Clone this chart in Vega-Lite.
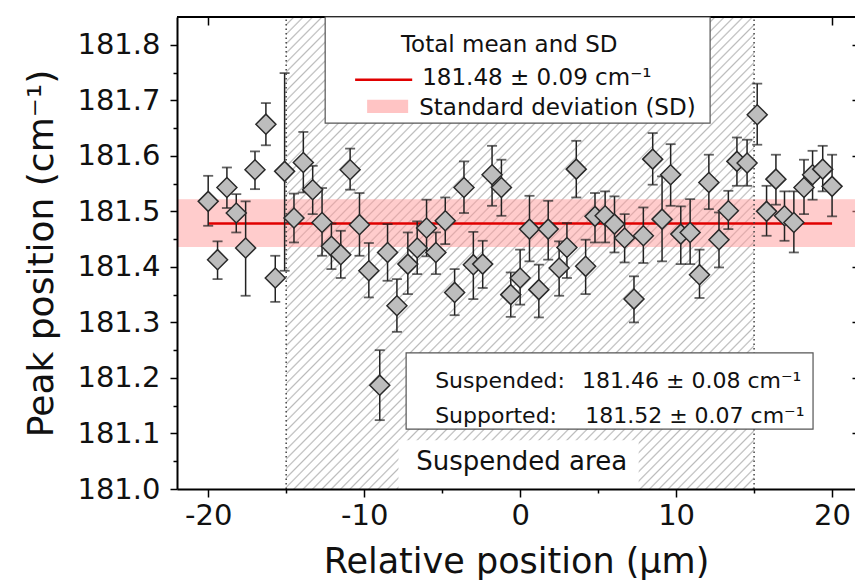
{
  "$schema": "https://vega.github.io/schema/vega-lite/v6.json",
  "width": 678,
  "height": 472,
  "autosize": {"type": "none"},
  "padding": {"left": 177, "top": 17, "right": 0, "bottom": 93},
  "background": "white",
  "config": {"view": {"stroke": null}, "font": "DejaVu Sans", "axis": {"grid": false}},
  "datasets": {
    "pts": [
      {"x": -20.0, "y": 181.518, "lo": 181.474, "hi": 181.564},
      {"x": -19.4, "y": 181.413, "lo": 181.378, "hi": 181.446},
      {"x": -18.8, "y": 181.543, "lo": 181.506, "hi": 181.579},
      {"x": -18.2, "y": 181.497, "lo": 181.462, "hi": 181.531},
      {"x": -17.6, "y": 181.434, "lo": 181.348, "hi": 181.518},
      {"x": -17.0, "y": 181.575, "lo": 181.540, "hi": 181.608},
      {"x": -16.3, "y": 181.657, "lo": 181.619, "hi": 181.695},
      {"x": -15.7, "y": 181.380, "lo": 181.337, "hi": 181.420},
      {"x": -15.1, "y": 181.572, "lo": 181.393, "hi": 181.749},
      {"x": -14.5, "y": 181.488, "lo": 181.444, "hi": 181.532},
      {"x": -13.9, "y": 181.588, "lo": 181.534, "hi": 181.643},
      {"x": -13.3, "y": 181.539, "lo": 181.495, "hi": 181.582},
      {"x": -12.7, "y": 181.480, "lo": 181.420, "hi": 181.542},
      {"x": -12.1, "y": 181.437, "lo": 181.396, "hi": 181.478},
      {"x": -11.5, "y": 181.422, "lo": 181.380, "hi": 181.465},
      {"x": -10.9, "y": 181.575, "lo": 181.539, "hi": 181.613},
      {"x": -10.3, "y": 181.476, "lo": 181.420, "hi": 181.533},
      {"x": -9.7, "y": 181.393, "lo": 181.345, "hi": 181.443},
      {"x": -9.0, "y": 181.187, "lo": 181.124, "hi": 181.250},
      {"x": -8.5, "y": 181.426, "lo": 181.375, "hi": 181.477},
      {"x": -7.9, "y": 181.330, "lo": 181.283, "hi": 181.378},
      {"x": -7.2, "y": 181.405, "lo": 181.351, "hi": 181.462},
      {"x": -6.6, "y": 181.434, "lo": 181.387, "hi": 181.482},
      {"x": -6.0, "y": 181.470, "lo": 181.419, "hi": 181.521},
      {"x": -5.4, "y": 181.426, "lo": 181.387, "hi": 181.462},
      {"x": -4.8, "y": 181.483, "lo": 181.441, "hi": 181.525},
      {"x": -4.2, "y": 181.354, "lo": 181.313, "hi": 181.396},
      {"x": -3.6, "y": 181.543, "lo": 181.497, "hi": 181.590},
      {"x": -3.0, "y": 181.404, "lo": 181.342, "hi": 181.463},
      {"x": -2.4, "y": 181.405, "lo": 181.362, "hi": 181.447},
      {"x": -1.8, "y": 181.566, "lo": 181.510, "hi": 181.618},
      {"x": -1.2, "y": 181.543, "lo": 181.492, "hi": 181.593},
      {"x": -0.6, "y": 181.350, "lo": 181.310, "hi": 181.390},
      {"x": 0.0, "y": 181.380, "lo": 181.332, "hi": 181.431},
      {"x": 0.6, "y": 181.468, "lo": 181.410, "hi": 181.528},
      {"x": 1.2, "y": 181.359, "lo": 181.309, "hi": 181.404},
      {"x": 1.8, "y": 181.468, "lo": 181.413, "hi": 181.519},
      {"x": 2.5, "y": 181.398, "lo": 181.348, "hi": 181.446},
      {"x": 3.0, "y": 181.435, "lo": 181.380, "hi": 181.479},
      {"x": 3.6, "y": 181.576, "lo": 181.525, "hi": 181.627},
      {"x": 4.2, "y": 181.401, "lo": 181.351, "hi": 181.449},
      {"x": 4.8, "y": 181.491, "lo": 181.444, "hi": 181.533},
      {"x": 5.45, "y": 181.492, "lo": 181.444, "hi": 181.536},
      {"x": 6.05, "y": 181.477, "lo": 181.426, "hi": 181.527},
      {"x": 6.7, "y": 181.452, "lo": 181.408, "hi": 181.495},
      {"x": 7.3, "y": 181.342, "lo": 181.300, "hi": 181.383},
      {"x": 7.9, "y": 181.456, "lo": 181.407, "hi": 181.507},
      {"x": 8.5, "y": 181.594, "lo": 181.548, "hi": 181.641},
      {"x": 9.1, "y": 181.486, "lo": 181.410, "hi": 181.563},
      {"x": 9.65, "y": 181.566, "lo": 181.510, "hi": 181.621},
      {"x": 10.3, "y": 181.459, "lo": 181.405, "hi": 181.509},
      {"x": 10.9, "y": 181.462, "lo": 181.405, "hi": 181.522},
      {"x": 11.5, "y": 181.386, "lo": 181.344, "hi": 181.431},
      {"x": 12.1, "y": 181.552, "lo": 181.504, "hi": 181.602},
      {"x": 12.75, "y": 181.449, "lo": 181.399, "hi": 181.498},
      {"x": 13.35, "y": 181.501, "lo": 181.468, "hi": 181.537},
      {"x": 13.9, "y": 181.590, "lo": 181.546, "hi": 181.633},
      {"x": 14.55, "y": 181.587, "lo": 181.546, "hi": 181.629},
      {"x": 15.2, "y": 181.674, "lo": 181.620, "hi": 181.730},
      {"x": 15.8, "y": 181.500, "lo": 181.456, "hi": 181.546},
      {"x": 16.4, "y": 181.558, "lo": 181.512, "hi": 181.602},
      {"x": 16.95, "y": 181.492, "lo": 181.447, "hi": 181.536},
      {"x": 17.55, "y": 181.480, "lo": 181.426, "hi": 181.536},
      {"x": 18.2, "y": 181.543, "lo": 181.495, "hi": 181.593},
      {"x": 18.75, "y": 181.566, "lo": 181.521, "hi": 181.609},
      {"x": 19.4, "y": 181.576, "lo": 181.536, "hi": 181.618},
      {"x": 20.0, "y": 181.545, "lo": 181.491, "hi": 181.602}
    ]
  },
  "resolve": {"axis": {"x": "independent", "y": "independent"}},
  "layer": [
    {
      "data": {"values": [{}]},
      "mark": {"type": "rect", "fillOpacity": 0.72, "fill": {"gradient": "linear", "x1": 0, "y1": 0, "x2": 1, "y2": 1, "stops": [
        {"offset":0.0065,"color":"#fff"},{"offset":0.0083,"color":"#a0a0a0"},{"offset":0.01,"color":"#fff"},
        {"offset":0.0165,"color":"#fff"},{"offset":0.0183,"color":"#a0a0a0"},{"offset":0.02,"color":"#fff"},
        {"offset":0.0265,"color":"#fff"},{"offset":0.0283,"color":"#a0a0a0"},{"offset":0.03,"color":"#fff"},
        {"offset":0.0365,"color":"#fff"},{"offset":0.0383,"color":"#a0a0a0"},{"offset":0.04,"color":"#fff"},
        {"offset":0.0465,"color":"#fff"},{"offset":0.0483,"color":"#a0a0a0"},{"offset":0.05,"color":"#fff"},
        {"offset":0.0565,"color":"#fff"},{"offset":0.0583,"color":"#a0a0a0"},{"offset":0.06,"color":"#fff"},
        {"offset":0.0665,"color":"#fff"},{"offset":0.0683,"color":"#a0a0a0"},{"offset":0.07,"color":"#fff"},
        {"offset":0.0765,"color":"#fff"},{"offset":0.0783,"color":"#a0a0a0"},{"offset":0.08,"color":"#fff"},
        {"offset":0.0865,"color":"#fff"},{"offset":0.0883,"color":"#a0a0a0"},{"offset":0.09,"color":"#fff"},
        {"offset":0.0965,"color":"#fff"},{"offset":0.0983,"color":"#a0a0a0"},{"offset":0.10,"color":"#fff"},
        {"offset":0.1065,"color":"#fff"},{"offset":0.1083,"color":"#a0a0a0"},{"offset":0.11,"color":"#fff"},
        {"offset":0.1165,"color":"#fff"},{"offset":0.1183,"color":"#a0a0a0"},{"offset":0.12,"color":"#fff"},
        {"offset":0.1265,"color":"#fff"},{"offset":0.1283,"color":"#a0a0a0"},{"offset":0.13,"color":"#fff"},
        {"offset":0.1365,"color":"#fff"},{"offset":0.1383,"color":"#a0a0a0"},{"offset":0.14,"color":"#fff"},
        {"offset":0.1465,"color":"#fff"},{"offset":0.1483,"color":"#a0a0a0"},{"offset":0.15,"color":"#fff"},
        {"offset":0.1565,"color":"#fff"},{"offset":0.1583,"color":"#a0a0a0"},{"offset":0.16,"color":"#fff"},
        {"offset":0.1665,"color":"#fff"},{"offset":0.1683,"color":"#a0a0a0"},{"offset":0.17,"color":"#fff"},
        {"offset":0.1765,"color":"#fff"},{"offset":0.1783,"color":"#a0a0a0"},{"offset":0.18,"color":"#fff"},
        {"offset":0.1865,"color":"#fff"},{"offset":0.1883,"color":"#a0a0a0"},{"offset":0.19,"color":"#fff"},
        {"offset":0.1965,"color":"#fff"},{"offset":0.1983,"color":"#a0a0a0"},{"offset":0.20,"color":"#fff"},
        {"offset":0.2065,"color":"#fff"},{"offset":0.2083,"color":"#a0a0a0"},{"offset":0.21,"color":"#fff"},
        {"offset":0.2165,"color":"#fff"},{"offset":0.2183,"color":"#a0a0a0"},{"offset":0.22,"color":"#fff"},
        {"offset":0.2265,"color":"#fff"},{"offset":0.2283,"color":"#a0a0a0"},{"offset":0.23,"color":"#fff"},
        {"offset":0.2365,"color":"#fff"},{"offset":0.2383,"color":"#a0a0a0"},{"offset":0.24,"color":"#fff"},
        {"offset":0.2465,"color":"#fff"},{"offset":0.2483,"color":"#a0a0a0"},{"offset":0.25,"color":"#fff"},
        {"offset":0.2565,"color":"#fff"},{"offset":0.2583,"color":"#a0a0a0"},{"offset":0.26,"color":"#fff"},
        {"offset":0.2665,"color":"#fff"},{"offset":0.2683,"color":"#a0a0a0"},{"offset":0.27,"color":"#fff"},
        {"offset":0.2765,"color":"#fff"},{"offset":0.2783,"color":"#a0a0a0"},{"offset":0.28,"color":"#fff"},
        {"offset":0.2865,"color":"#fff"},{"offset":0.2883,"color":"#a0a0a0"},{"offset":0.29,"color":"#fff"},
        {"offset":0.2965,"color":"#fff"},{"offset":0.2983,"color":"#a0a0a0"},{"offset":0.30,"color":"#fff"},
        {"offset":0.3065,"color":"#fff"},{"offset":0.3083,"color":"#a0a0a0"},{"offset":0.31,"color":"#fff"},
        {"offset":0.3165,"color":"#fff"},{"offset":0.3183,"color":"#a0a0a0"},{"offset":0.32,"color":"#fff"},
        {"offset":0.3265,"color":"#fff"},{"offset":0.3283,"color":"#a0a0a0"},{"offset":0.33,"color":"#fff"},
        {"offset":0.3365,"color":"#fff"},{"offset":0.3383,"color":"#a0a0a0"},{"offset":0.34,"color":"#fff"},
        {"offset":0.3465,"color":"#fff"},{"offset":0.3483,"color":"#a0a0a0"},{"offset":0.35,"color":"#fff"},
        {"offset":0.3565,"color":"#fff"},{"offset":0.3583,"color":"#a0a0a0"},{"offset":0.36,"color":"#fff"},
        {"offset":0.3665,"color":"#fff"},{"offset":0.3683,"color":"#a0a0a0"},{"offset":0.37,"color":"#fff"},
        {"offset":0.3765,"color":"#fff"},{"offset":0.3783,"color":"#a0a0a0"},{"offset":0.38,"color":"#fff"},
        {"offset":0.3865,"color":"#fff"},{"offset":0.3883,"color":"#a0a0a0"},{"offset":0.39,"color":"#fff"},
        {"offset":0.3965,"color":"#fff"},{"offset":0.3983,"color":"#a0a0a0"},{"offset":0.40,"color":"#fff"},
        {"offset":0.4065,"color":"#fff"},{"offset":0.4083,"color":"#a0a0a0"},{"offset":0.41,"color":"#fff"},
        {"offset":0.4165,"color":"#fff"},{"offset":0.4183,"color":"#a0a0a0"},{"offset":0.42,"color":"#fff"},
        {"offset":0.4265,"color":"#fff"},{"offset":0.4283,"color":"#a0a0a0"},{"offset":0.43,"color":"#fff"},
        {"offset":0.4365,"color":"#fff"},{"offset":0.4383,"color":"#a0a0a0"},{"offset":0.44,"color":"#fff"},
        {"offset":0.4465,"color":"#fff"},{"offset":0.4483,"color":"#a0a0a0"},{"offset":0.45,"color":"#fff"},
        {"offset":0.4565,"color":"#fff"},{"offset":0.4583,"color":"#a0a0a0"},{"offset":0.46,"color":"#fff"},
        {"offset":0.4665,"color":"#fff"},{"offset":0.4683,"color":"#a0a0a0"},{"offset":0.47,"color":"#fff"},
        {"offset":0.4765,"color":"#fff"},{"offset":0.4783,"color":"#a0a0a0"},{"offset":0.48,"color":"#fff"},
        {"offset":0.4865,"color":"#fff"},{"offset":0.4883,"color":"#a0a0a0"},{"offset":0.49,"color":"#fff"},
        {"offset":0.4965,"color":"#fff"},{"offset":0.4983,"color":"#a0a0a0"},{"offset":0.50,"color":"#fff"},
        {"offset":0.5065,"color":"#fff"},{"offset":0.5083,"color":"#a0a0a0"},{"offset":0.51,"color":"#fff"},
        {"offset":0.5165,"color":"#fff"},{"offset":0.5183,"color":"#a0a0a0"},{"offset":0.52,"color":"#fff"},
        {"offset":0.5265,"color":"#fff"},{"offset":0.5283,"color":"#a0a0a0"},{"offset":0.53,"color":"#fff"},
        {"offset":0.5365,"color":"#fff"},{"offset":0.5383,"color":"#a0a0a0"},{"offset":0.54,"color":"#fff"},
        {"offset":0.5465,"color":"#fff"},{"offset":0.5483,"color":"#a0a0a0"},{"offset":0.55,"color":"#fff"},
        {"offset":0.5565,"color":"#fff"},{"offset":0.5583,"color":"#a0a0a0"},{"offset":0.56,"color":"#fff"},
        {"offset":0.5665,"color":"#fff"},{"offset":0.5683,"color":"#a0a0a0"},{"offset":0.57,"color":"#fff"},
        {"offset":0.5765,"color":"#fff"},{"offset":0.5783,"color":"#a0a0a0"},{"offset":0.58,"color":"#fff"},
        {"offset":0.5865,"color":"#fff"},{"offset":0.5883,"color":"#a0a0a0"},{"offset":0.59,"color":"#fff"},
        {"offset":0.5965,"color":"#fff"},{"offset":0.5983,"color":"#a0a0a0"},{"offset":0.60,"color":"#fff"},
        {"offset":0.6065,"color":"#fff"},{"offset":0.6083,"color":"#a0a0a0"},{"offset":0.61,"color":"#fff"},
        {"offset":0.6165,"color":"#fff"},{"offset":0.6183,"color":"#a0a0a0"},{"offset":0.62,"color":"#fff"},
        {"offset":0.6265,"color":"#fff"},{"offset":0.6283,"color":"#a0a0a0"},{"offset":0.63,"color":"#fff"},
        {"offset":0.6365,"color":"#fff"},{"offset":0.6383,"color":"#a0a0a0"},{"offset":0.64,"color":"#fff"},
        {"offset":0.6465,"color":"#fff"},{"offset":0.6483,"color":"#a0a0a0"},{"offset":0.65,"color":"#fff"},
        {"offset":0.6565,"color":"#fff"},{"offset":0.6583,"color":"#a0a0a0"},{"offset":0.66,"color":"#fff"},
        {"offset":0.6665,"color":"#fff"},{"offset":0.6683,"color":"#a0a0a0"},{"offset":0.67,"color":"#fff"},
        {"offset":0.6765,"color":"#fff"},{"offset":0.6783,"color":"#a0a0a0"},{"offset":0.68,"color":"#fff"},
        {"offset":0.6865,"color":"#fff"},{"offset":0.6883,"color":"#a0a0a0"},{"offset":0.69,"color":"#fff"},
        {"offset":0.6965,"color":"#fff"},{"offset":0.6983,"color":"#a0a0a0"},{"offset":0.70,"color":"#fff"},
        {"offset":0.7065,"color":"#fff"},{"offset":0.7083,"color":"#a0a0a0"},{"offset":0.71,"color":"#fff"},
        {"offset":0.7165,"color":"#fff"},{"offset":0.7183,"color":"#a0a0a0"},{"offset":0.72,"color":"#fff"},
        {"offset":0.7265,"color":"#fff"},{"offset":0.7283,"color":"#a0a0a0"},{"offset":0.73,"color":"#fff"},
        {"offset":0.7365,"color":"#fff"},{"offset":0.7383,"color":"#a0a0a0"},{"offset":0.74,"color":"#fff"},
        {"offset":0.7465,"color":"#fff"},{"offset":0.7483,"color":"#a0a0a0"},{"offset":0.75,"color":"#fff"},
        {"offset":0.7565,"color":"#fff"},{"offset":0.7583,"color":"#a0a0a0"},{"offset":0.76,"color":"#fff"},
        {"offset":0.7665,"color":"#fff"},{"offset":0.7683,"color":"#a0a0a0"},{"offset":0.77,"color":"#fff"},
        {"offset":0.7765,"color":"#fff"},{"offset":0.7783,"color":"#a0a0a0"},{"offset":0.78,"color":"#fff"},
        {"offset":0.7865,"color":"#fff"},{"offset":0.7883,"color":"#a0a0a0"},{"offset":0.79,"color":"#fff"},
        {"offset":0.7965,"color":"#fff"},{"offset":0.7983,"color":"#a0a0a0"},{"offset":0.80,"color":"#fff"},
        {"offset":0.8065,"color":"#fff"},{"offset":0.8083,"color":"#a0a0a0"},{"offset":0.81,"color":"#fff"},
        {"offset":0.8165,"color":"#fff"},{"offset":0.8183,"color":"#a0a0a0"},{"offset":0.82,"color":"#fff"},
        {"offset":0.8265,"color":"#fff"},{"offset":0.8283,"color":"#a0a0a0"},{"offset":0.83,"color":"#fff"},
        {"offset":0.8365,"color":"#fff"},{"offset":0.8383,"color":"#a0a0a0"},{"offset":0.84,"color":"#fff"},
        {"offset":0.8465,"color":"#fff"},{"offset":0.8483,"color":"#a0a0a0"},{"offset":0.85,"color":"#fff"},
        {"offset":0.8565,"color":"#fff"},{"offset":0.8583,"color":"#a0a0a0"},{"offset":0.86,"color":"#fff"},
        {"offset":0.8665,"color":"#fff"},{"offset":0.8683,"color":"#a0a0a0"},{"offset":0.87,"color":"#fff"},
        {"offset":0.8765,"color":"#fff"},{"offset":0.8783,"color":"#a0a0a0"},{"offset":0.88,"color":"#fff"},
        {"offset":0.8865,"color":"#fff"},{"offset":0.8883,"color":"#a0a0a0"},{"offset":0.89,"color":"#fff"},
        {"offset":0.8965,"color":"#fff"},{"offset":0.8983,"color":"#a0a0a0"},{"offset":0.90,"color":"#fff"},
        {"offset":0.9065,"color":"#fff"},{"offset":0.9083,"color":"#a0a0a0"},{"offset":0.91,"color":"#fff"},
        {"offset":0.9165,"color":"#fff"},{"offset":0.9183,"color":"#a0a0a0"},{"offset":0.92,"color":"#fff"},
        {"offset":0.9265,"color":"#fff"},{"offset":0.9283,"color":"#a0a0a0"},{"offset":0.93,"color":"#fff"},
        {"offset":0.9365,"color":"#fff"},{"offset":0.9383,"color":"#a0a0a0"},{"offset":0.94,"color":"#fff"},
        {"offset":0.9465,"color":"#fff"},{"offset":0.9483,"color":"#a0a0a0"},{"offset":0.95,"color":"#fff"},
        {"offset":0.9565,"color":"#fff"},{"offset":0.9583,"color":"#a0a0a0"},{"offset":0.96,"color":"#fff"},
        {"offset":0.9665,"color":"#fff"},{"offset":0.9683,"color":"#a0a0a0"},{"offset":0.97,"color":"#fff"},
        {"offset":0.9765,"color":"#fff"},{"offset":0.9783,"color":"#a0a0a0"},{"offset":0.98,"color":"#fff"},
        {"offset":0.9865,"color":"#fff"},{"offset":0.9883,"color":"#a0a0a0"},{"offset":0.99,"color":"#fff"},
        {"offset":0.9965,"color":"#fff"},{"offset":0.9983,"color":"#a0a0a0"},{"offset":1.0,"color":"#fff"}
      ]}},
      "encoding": {
        "x": {"datum": -15, "type": "quantitative", "scale": {"domain": [-22, 21.47], "nice": false, "zero": false},
              "axis": {"orient": "top", "values": [-20, -10, 0, 10, 20], "labels": false, "domain": false, "tickSize": -8, "tickWidth": 1.5, "tickColor": "#000", "title": null, "zindex": 0}},
        "x2": {"datum": 15},
        "y": {"datum": 181.0, "type": "quantitative", "scale": {"domain": [181.0, 181.85], "nice": false, "zero": false},
              "axis": {"orient": "right", "values": [181.1, 181.2, 181.3, 181.4, 181.5, 181.6, 181.7, 181.8], "labels": false, "domain": false, "tickSize": -3, "tickWidth": 1.5, "tickColor": "#000", "title": null, "zindex": 0}},
        "y2": {"datum": 181.85}
      }
    },
    {
      "data": {"values": [{}]},
      "mark": {"type": "rect", "fill": "#ff9a9a", "fillOpacity": 0.5},
      "encoding": {
        "x": {"datum": -22, "type": "quantitative",
              "axis": {"orient": "bottom", "values": [-15, -5, 5, 15], "labels": false, "domain": false, "tickSize": 4, "tickWidth": 1.5, "tickColor": "#000", "title": null, "zindex": 1}},
        "x2": {"datum": 21.47},
        "y": {"datum": 181.436, "type": "quantitative",
              "axis": {"orient": "left", "values": [181.05, 181.15, 181.25, 181.35, 181.45, 181.55, 181.65, 181.75], "labels": false, "domain": false, "tickSize": 4, "tickWidth": 1.5, "tickColor": "#000", "title": null, "zindex": 1}},
        "y2": {"datum": 181.522}
      }
    },
    {
      "data": {"values": [{}]},
      "mark": {"type": "rule", "color": "#e00000", "strokeWidth": 2.5},
      "encoding": {
        "x": {"datum": -20, "type": "quantitative", "axis": null},
        "x2": {"datum": 20},
        "y": {"datum": 181.478, "type": "quantitative", "axis": null}
      }
    },
    {
      "data": {"values": [{}]},
      "mark": {"type": "rule", "color": "#444", "strokeWidth": 1.5, "strokeDash": [1.5, 3]},
      "encoding": {
        "x": {"datum": -15, "type": "quantitative", "axis": null},
        "y": {"datum": 181.0, "type": "quantitative", "axis": null},
        "y2": {"datum": 181.85}
      }
    },
    {
      "data": {"values": [{}]},
      "mark": {"type": "rule", "color": "#444", "strokeWidth": 1.5, "strokeDash": [1.5, 3]},
      "encoding": {
        "x": {"datum": 15, "type": "quantitative", "axis": null},
        "y": {"datum": 181.0, "type": "quantitative", "axis": null},
        "y2": {"datum": 181.85}
      }
    },
    {
      "data": {"values": [{}]},
      "mark": {"type": "rule", "color": "#000", "strokeWidth": 2},
      "encoding": {
        "x": {"datum": -22, "type": "quantitative", "axis": null},
        "x2": {"datum": 21.47},
        "y": {"datum": 181.85, "type": "quantitative", "axis": null}
      }
    },
    {
      "data": {"values": [{}]},
      "mark": {"type": "rect", "fill": "white", "stroke": "#555", "strokeWidth": 1.2},
      "encoding": {
        "x": {"datum": -12.5, "type": "quantitative", "axis": null},
        "x2": {"datum": 12.18},
        "y": {"datum": 181.659, "type": "quantitative", "axis": null},
        "y2": {"datum": 181.85}
      }
    },
    {
      "data": {"values": [{}]},
      "mark": {"type": "rect", "fill": "white", "stroke": "#555", "strokeWidth": 1.2},
      "encoding": {
        "x": {"datum": -7.31, "type": "quantitative", "axis": null},
        "x2": {"datum": 18.78},
        "y": {"datum": 181.108, "type": "quantitative", "axis": null},
        "y2": {"datum": 181.245}
      }
    },
    {
      "data": {"values": [{}]},
      "mark": {"type": "rect", "fill": "white"},
      "encoding": {
        "x": {"datum": -7.8, "type": "quantitative", "axis": null},
        "x2": {"datum": 7.6},
        "y": {"datum": 181.0, "type": "quantitative", "axis": null},
        "y2": {"datum": 181.088}
      }
    },
    {
      "data": {"values": [{}]},
      "mark": {"type": "rule", "color": "#e00000", "strokeWidth": 2.5},
      "encoding": {
        "x": {"datum": -10.58, "type": "quantitative", "axis": null},
        "x2": {"datum": -6.92},
        "y": {"datum": 181.737, "type": "quantitative", "axis": null}
      }
    },
    {
      "data": {"values": [{}]},
      "mark": {"type": "rect", "fill": "#ffc4c4"},
      "encoding": {
        "x": {"datum": -9.81, "type": "quantitative", "axis": null},
        "x2": {"datum": -7.18},
        "y": {"datum": 181.677, "type": "quantitative", "axis": null},
        "y2": {"datum": 181.701}
      }
    },
    {
      "data": {"values": [{}]},
      "mark": {"type": "text", "align": "center", "baseline": "alphabetic", "fontSize": 23, "font": "DejaVu Sans", "color": "#111"},
      "encoding": {
        "x": {"datum": -0.7, "type": "quantitative", "axis": null},
        "y": {"datum": 181.787, "type": "quantitative", "axis": null},
        "text": {"value": "Total mean and SD"}
      }
    },
    {
      "data": {"values": [{}]},
      "mark": {"type": "text", "align": "left", "baseline": "alphabetic", "fontSize": 23, "font": "DejaVu Sans", "color": "#111"},
      "encoding": {
        "x": {"datum": -6.28, "type": "quantitative", "axis": null},
        "y": {"datum": 181.728, "type": "quantitative", "axis": null},
        "text": {"value": "181.48 ± 0.09 cm⁻¹"}
      }
    },
    {
      "data": {"values": [{}]},
      "mark": {"type": "text", "align": "left", "baseline": "alphabetic", "fontSize": 23, "font": "DejaVu Sans", "color": "#111"},
      "encoding": {
        "x": {"datum": -6.47, "type": "quantitative", "axis": null},
        "y": {"datum": 181.674, "type": "quantitative", "axis": null},
        "text": {"value": "Standard deviation (SD)"}
      }
    },
    {
      "data": {"values": [{}]},
      "mark": {"type": "text", "align": "left", "baseline": "alphabetic", "fontSize": 22, "font": "DejaVu Sans", "color": "#111"},
      "encoding": {
        "x": {"datum": -5.45, "type": "quantitative", "axis": null},
        "y": {"datum": 181.182, "type": "quantitative", "axis": null},
        "text": {"value": "Suspended:"}
      }
    },
    {
      "data": {"values": [{}]},
      "mark": {"type": "text", "align": "left", "baseline": "alphabetic", "fontSize": 22, "font": "DejaVu Sans", "color": "#111"},
      "encoding": {
        "x": {"datum": 3.97, "type": "quantitative", "axis": null},
        "y": {"datum": 181.182, "type": "quantitative", "axis": null},
        "text": {"value": "181.46 ± 0.08  cm⁻¹"}
      }
    },
    {
      "data": {"values": [{}]},
      "mark": {"type": "text", "align": "left", "baseline": "alphabetic", "fontSize": 22, "font": "DejaVu Sans", "color": "#111"},
      "encoding": {
        "x": {"datum": -5.45, "type": "quantitative", "axis": null},
        "y": {"datum": 181.119, "type": "quantitative", "axis": null},
        "text": {"value": "Supported:"}
      }
    },
    {
      "data": {"values": [{}]},
      "mark": {"type": "text", "align": "left", "baseline": "alphabetic", "fontSize": 22, "font": "DejaVu Sans", "color": "#111"},
      "encoding": {
        "x": {"datum": 4.17, "type": "quantitative", "axis": null},
        "y": {"datum": 181.119, "type": "quantitative", "axis": null},
        "text": {"value": "181.52 ± 0.07 cm⁻¹"}
      }
    },
    {
      "data": {"values": [{}]},
      "mark": {"type": "text", "align": "center", "baseline": "alphabetic", "fontSize": 26, "font": "DejaVu Sans", "color": "#111"},
      "encoding": {
        "x": {"datum": 0.1, "type": "quantitative", "axis": null},
        "y": {"datum": 181.034, "type": "quantitative", "axis": null},
        "text": {"value": "Suspended area"}
      }
    },
    {
      "data": {"name": "pts"},
      "mark": {"type": "rule", "color": "#222", "strokeWidth": 1.5},
      "encoding": {
        "x": {"field": "x", "type": "quantitative", "axis": null},
        "y": {"field": "lo", "type": "quantitative", "axis": null},
        "y2": {"field": "hi"}
      }
    },
    {
      "data": {"name": "pts"},
      "mark": {"type": "tick", "orient": "horizontal", "color": "#222", "size": 10, "thickness": 1.8},
      "encoding": {
        "x": {"field": "x", "type": "quantitative", "axis": null},
        "y": {"field": "lo", "type": "quantitative", "axis": null}
      }
    },
    {
      "data": {"name": "pts"},
      "mark": {"type": "tick", "orient": "horizontal", "color": "#222", "size": 10, "thickness": 1.8},
      "encoding": {
        "x": {"field": "x", "type": "quantitative", "axis": null},
        "y": {"field": "hi", "type": "quantitative", "axis": null}
      }
    },
    {
      "data": {"name": "pts"},
      "mark": {"type": "point", "shape": "diamond", "size": 400, "filled": true, "fill": "#bdbdbd", "stroke": "#2a2a2a", "strokeWidth": 1.5, "opacity": 1},
      "encoding": {
        "x": {"field": "x", "type": "quantitative",
              "axis": {"orient": "bottom", "values": [-20, -10, 0, 10, 20], "labelExpr": "'' + datum.value", "title": "Relative position (μm)",
                       "titleFont": "DejaVu Sans", "titleFontSize": 35, "titleFontWeight": "normal", "titleColor": "#111", "titlePadding": 14,
                       "labelFont": "DejaVu Sans", "labelFontSize": 29, "labelColor": "#111", "labelPadding": 4, "labelFlush": false, "labelOverlap": false,
                       "tickSize": 8, "tickWidth": 1.5, "tickColor": "#000", "domainColor": "#000", "domainWidth": 2, "zindex": 1}},
        "y": {"field": "y", "type": "quantitative",
              "axis": {"orient": "left", "values": [181.0, 181.1, 181.2, 181.3, 181.4, 181.5, 181.6, 181.7, 181.8], "format": ".1f", "title": "Peak position (cm⁻¹)",
                       "titleFont": "DejaVu Sans", "titleFontSize": 36, "titleFontWeight": "normal", "titleColor": "#111", "titlePadding": 16,
                       "labelFont": "DejaVu Sans", "labelFontSize": 29, "labelColor": "#111", "labelPadding": 10, "labelFlush": false, "labelOverlap": false,
                       "tickSize": 7, "tickWidth": 1.5, "tickColor": "#000", "domainColor": "#000", "domainWidth": 2, "zindex": 1}}
      }
    }
  ]
}
